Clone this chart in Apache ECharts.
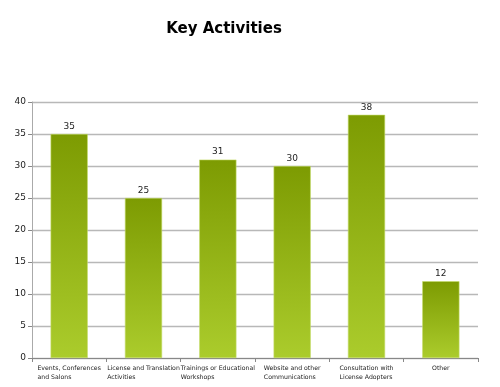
<!DOCTYPE html>
<html>
<head>
<meta charset="utf-8">
<script src="https://cdn.jsdelivr.net/npm/echarts@6/dist/echarts.min.js"></script>
<style>html,body{margin:0;padding:0;background:#fff;}#c{width:500px;height:387px;}</style>
</head>
<body>
<div id="c"></div>
<script>
const title = "Key Activities";
const categories = [
  "Events, Conferences\nand Salons",
  "License and Translation\nActivities",
  "Trainings or Educational\nWorkshops",
  "Website and other\nCommunications",
  "Consultation with\nLicense Adopters",
  "Other"
];
const values = [35, 25, 31, 30, 38, 12];
const yTicks = [0, 5, 10, 15, 20, 25, 30, 35, 40];

const chart = echarts.init(document.getElementById('c'));
chart.setOption({
  animation: false,
  backgroundColor: '#fff',
  title: {
    text: title,
    left: 219, top: 17, textAlign: 'center',
    textStyle: {fontFamily: 'DejaVu Sans', fontWeight: 'bold', fontSize: 15, color: '#000'}
  },
  grid: {left: 32, right: 22, top: 102, bottom: 29, containLabel: false},
  xAxis: {
    type: 'category',
    data: categories,
    axisLine: {show: true, lineStyle: {color: '#888', width: 1}},
    axisTick: {show: true, length: 4, lineStyle: {color: '#888'}},
    axisLabel: {
      interval: 0, margin: 6,
      fontFamily: 'DejaVu Sans', fontSize: 6.2, color: '#222', lineHeight: 9,
      formatter: function (v) {
        return v.split('\n').map(function (s) { return '{l|' + s + '}'; }).join('\n');
      },
      rich: {
        l: {align: 'left', fontFamily: 'DejaVu Sans', fontSize: 6.2, color: '#222', lineHeight: 9}
      }
    }
  },
  yAxis: {
    type: 'value',
    min: yTicks[0], max: yTicks[yTicks.length - 1], interval: 5,
    axisLine: {show: true, lineStyle: {color: '#aaa', width: 1}},
    axisTick: {show: true, length: 4, lineStyle: {color: '#888'}},
    axisLabel: {fontFamily: 'DejaVu Sans', fontSize: 9, color: '#222', margin: 6},
    splitLine: {show: true, lineStyle: {color: '#b8b8b8', width: 1.3}}
  },
  series: [{
    type: 'bar',
    data: values,
    barWidth: '50%',
    itemStyle: {
      borderColor: '#c4dc6a', borderWidth: 0.6,
      color: new echarts.graphic.LinearGradient(0, 0, 0, 1, [
        {offset: 0, color: '#7d9b02'},
        {offset: 1, color: '#abcc2c'}
      ], false)
    },
    label: {
      show: true, position: 'top', distance: 3,
      fontFamily: 'DejaVu Sans', fontSize: 9, color: '#222'
    }
  }]
});
</script>
</body>
</html>
